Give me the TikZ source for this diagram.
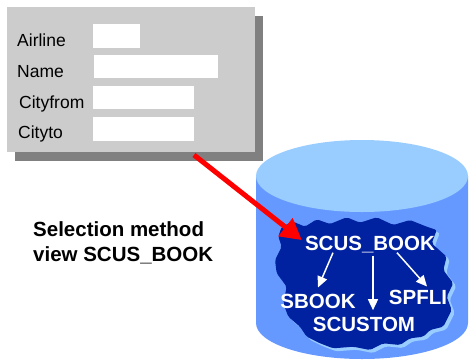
\documentclass[tikz,border=0pt]{standalone}
\usepackage{fontspec}
\setmainfont{Liberation Sans}
\usetikzlibrary{arrows.meta}

\definecolor{panelgray}{RGB}{204,204,204}
\definecolor{shadowgray}{RGB}{128,128,128}
\definecolor{cyltop}{RGB}{153,204,255}
\definecolor{cylbody}{RGB}{102,153,255}
\definecolor{blobblue}{RGB}{0,34,160}
\definecolor{blobedge}{RGB}{153,204,255}

% outline of the table area on the drum
\newcommand{\blobpath}{(281.7,226.7) -- (293.3,221.7) -- (305,226.7) -- (316.7,219.3)
  -- (330,224) -- (346.7,217.3) -- (360,222.7) -- (376.7,217.3) -- (393.3,225)
  -- (410,220) -- (426.7,226.7) -- (436.7,230) -- (431.7,243.3) -- (446.7,256.7)
  -- (443.3,270) -- (453.3,283.3) -- (446.7,296.7) -- (451.7,310) -- (443.3,326.7)
  -- (430,330) -- (423.3,336.7) -- (410,338.3) -- (400,345) -- (383.3,343.3)
  -- (370,350) -- (353.3,346.7) -- (333.3,348.3) -- (320,343.3) -- (306.7,336.7)
  -- (300,326.7) -- (288.3,316.7) -- (283.3,303.3) -- (286.7,286.7) -- (276.7,273.3)
  -- (275,260) -- (281.7,246.7) -- (278.3,236.7) -- cycle}

\begin{document}
\begin{tikzpicture}[x=1pt,y=-1pt]
  \tikzstyle{panel} = [fill=panelgray, inner sep=0pt, anchor=north west]
  \tikzstyle{field} = [fill=white, inner sep=0pt, anchor=north west]
  \tikzstyle{label} = [inner sep=0pt, anchor=base west, font=\fontsize{17.5}{21}\selectfont]
  \tikzstyle{table} = [inner sep=0pt, anchor=base, text=white, font=\fontsize{20.5}{24}\selectfont\bfseries]
  \tikzstyle{link} = [draw, white, line width=1.5pt, -{Triangle[length=11pt,width=10pt]}]
  \tikzstyle{pointer} = [draw, red, line width=5pt, -{Triangle[length=21pt,width=22pt]}]

  \useasboundingbox (0,0) rectangle (469,360);

  % selection screen
  \fill[shadowgray] (15,16) rectangle (263,161);
  \node[panel, minimum width=248, minimum height=145] (form) at (7,7) {};

  \node[label] (lairline) at (17,46) {Airline};
  \node[label] (lname) at (17,77) {Name};
  \node[label] (lcityfrom) at (19,108) {Cityfrom};
  \node[label] (lcityto) at (18,138) {Cityto};

  \node[field, minimum width=47, minimum height=24] (fairline) at (93,24) {};
  \node[field, minimum width=124, minimum height=23] (fname) at (94,55) {};
  \node[field, minimum width=101, minimum height=23] (fcityfrom) at (93,86) {};
  \node[field, minimum width=101, minimum height=24] (fcityto) at (93,117) {};

  % database
  \fill[cylbody] (256,176) -- (256,323) arc[start angle=180, end angle=360, x radius=106pt, y radius=36pt] -- (468,176) -- cycle;
  \fill[cyltop] (362,176) ellipse[x radius=106pt, y radius=36pt];
  \fill[blobedge, shift={(3,3)}, rounded corners=2pt] \blobpath;
  \fill[blobblue, rounded corners=2pt] \blobpath;

  \node[table] (scusbook) at (370,250) {SCUS\_BOOK};
  \node[table] (sbook) at (318,308) {SBOOK};
  \node[table] (spfli) at (418,304) {SPFLI};
  \node[table] (scustom) at (364,331.7) {SCUSTOM};

  \draw[link] ([xshift=-37pt]scusbook.south) -- ([yshift=6pt]sbook.north);
  \draw[link] ([xshift=3pt,yshift=-3pt]scusbook.south) -- ([xshift=9pt,yshift=7pt]scustom.north);
  \draw[link] ([xshift=27pt]scusbook.south) -- ([xshift=9pt,yshift=3pt]spfli.north);

  % caption
  \node[inner sep=0pt, anchor=north west, align=left, font=\fontsize{20.5}{25}\selectfont\bfseries] (caption) at (33,221) {Selection method\\view SCUS\_BOOK};

  \coordinate (redstart) at (194,155);
  \draw[pointer] (redstart) -- ([xshift=-3pt,yshift=4pt]scusbook.west);
\end{tikzpicture}
\end{document}
